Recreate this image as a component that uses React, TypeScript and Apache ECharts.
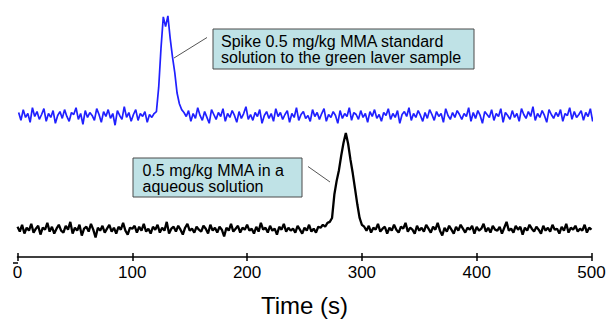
import React, { useEffect, useRef } from "react";
import * as echarts from "echarts";

// Time axis ticks (s)
const xTicks = [0, 100, 200, 300, 400, 500];

// Acquisition grid: every 2 s
const sampleStep = 2;
const blueStart = 1;
const blackStart = 0;

// Spiked green laver sample (offset trace, arbitrary units)
const blueSignal = [
  148,140,151,143,147,138,153,144,149,141,146,152,139,147,143,150,137,145,149,142,
  151,144,139,148,146,153,141,147,136,150,143,148,145,140,152,146,138,149,144,151,
  142,147,135,150,145,141,154,143,148,139,146,151,140,147,144,149,138,146,143,147,
  149,174,214,246,236,247,224,205,189,168,157,151,148,
  144,150,139,147,142,153,145,140,149,143,137,151,146,141,148,144,152,139,147,143,
  150,145,138,149,142,147,154,141,146,140,148,144,151,137,145,149,142,147,139,152,
  144,148,141,146,150,138,147,143,153,140,146,149,142,145,139,151,144,148,141,147,
  152,139,146,143,149,145,137,150,142,147,144,153,140,148,146,141,150,143,147,138,
  149,144,151,142,146,139,148,145,152,141,147,143,150,137,146,149,144,153,140,147,
  143,150,145,139,148,142,151,146,140,149,144,147,138,152,145,141,148,143,150,146,
  141,147,144,153,139,148,142,150,145,137,149,146,143,151,140,147,144,152,138,148,
  145,141,150,143,147,139,152,146,142,149,144,154,140,147,143,150,145,138,151,146,
  142,148,144,151,139,147,145,153,141,149,143,146,150,140,148,144,152,139,147,145,
];

// 0.5 mg/kg MMA in aqueous solution (arbitrary units)
const blackSignal = [
  31,26,33,24,30,27,34,25,29,32,23,30,28,35,26,31,24,29,33,27,
  25,32,28,36,24,30,27,33,22,29,31,26,34,28,20,30,27,32,25,29,
  33,26,30,24,31,28,35,27,23,30,29,32,25,31,27,34,26,29,24,31,
  28,33,25,30,27,36,24,29,31,26,32,28,23,30,34,27,29,25,31,28,
  26,32,29,24,33,27,30,25,31,28,21,30,27,34,26,29,32,25,30,28,
  33,27,29,24,31,26,35,28,30,25,32,27,29,23,31,28,34,26,30,27,
  29,25,32,28,24,30,27,33,26,29,25,31,
  30,33,31,35,36,40,64,78,89,104,117,127,116,100,86,70,54,40,33,31,
  27,32,25,30,28,34,26,29,31,24,30,27,33,28,25,31,29,35,26,30,
  28,24,32,27,30,26,33,29,25,31,28,35,27,22,30,26,32,28,24,31,
  27,33,29,25,30,28,32,24,31,27,29,34,26,30,25,32,28,27,31,24,
  30,36,27,29,25,32,28,31,23,30,27,33,29,26,31,28,24,32,27,30,
  26,33,28,29,24,31,27,34,25,30,28,32,26,29,27,33,25,30,28,
];

const note1 = ["Spike 0.5 mg/kg MMA standard", "solution to the green laver sample"];
const note2 = ["0.5 mg/kg MMA in a", "aqueous solution"];

const FONT = "'Liberation Sans', Arial, Helvetica, sans-serif";

export default function App() {
  const ref = useRef<HTMLDivElement>(null);
  useEffect(() => {
    if (!ref.current) return;
    const chart = echarts.init(ref.current, undefined, { renderer: "svg" });
    const blueData = blueSignal.map((v, i) => [blueStart + i * sampleStep, v]);
    const blackData = blackSignal.map((v, i) => [blackStart + i * sampleStep, v]);
    const boxFill = "#bfe2e6";
    const boxStroke = "#4a4a4a";
    chart.setOption({
      animation: false,
      backgroundColor: "#ffffff",
      textStyle: { fontFamily: FONT },
      grid: { left: 17.5, right: 17.5, top: 13, bottom: 59 },
      xAxis: [
        {
          type: "value",
          min: 0,
          max: 500,
          interval: 100,
          splitLine: { show: false },
          axisLine: { show: true, lineStyle: { color: "#000", width: 1.5 } },
          axisTick: { show: true, inside: false, length: 4, lineStyle: { color: "#000", width: 1.5 } },
          axisLabel: {
            show: true,
            color: "#000",
            fontSize: 17,
            margin: 7,
            fontFamily: FONT,
            customValues: xTicks,
          },
          name: "Time (s)",
          nameLocation: "middle",
          nameGap: 36,
          nameTextStyle: { fontSize: 24, color: "#000", fontFamily: FONT },
        },
        {
          type: "value",
          position: "bottom",
          min: 0,
          max: 500,
          interval: 100,
          splitLine: { show: false },
          axisLine: { show: false },
          axisTick: { show: true, inside: true, length: 4, lineStyle: { color: "#000", width: 1.5 } },
          axisLabel: { show: false },
        },
      ],
      yAxis: { type: "value", min: 0, max: 250, show: false },
      series: [
        {
          type: "line",
          data: blueData,
          xAxisIndex: 0,
          showSymbol: false,
          clip: false,
          lineStyle: { color: "#2020ff", width: 1.7 },
          z: 2,
        },
        {
          type: "line",
          data: blackData,
          xAxisIndex: 0,
          showSymbol: false,
          clip: false,
          lineStyle: { color: "#000", width: 2.3 },
          z: 2,
        },
      ],
      graphic: [
        { type: "line", shape: { x1: 13, y1: 263, x2: 18, y2: 263 }, style: { stroke: "#000", lineWidth: 1.5 } },
        { type: "line", shape: { x1: 207, y1: 37.5, x2: 174, y2: 58 }, style: { stroke: "#555", lineWidth: 1 } },
        { type: "rect", shape: { x: 213, y: 29, width: 261, height: 40 }, style: { fill: boxFill, stroke: boxStroke, lineWidth: 1 } },
        {
          type: "text",
          x: 221,
          y: 33.5,
          style: { text: note1.join("\n"), fontSize: 16, lineHeight: 16, fill: "#000", font: `16px ${FONT}`, textVerticalAlign: "top" },
        },
        { type: "line", shape: { x1: 308, y1: 166.5, x2: 330, y2: 182 }, style: { stroke: "#555", lineWidth: 1 } },
        { type: "rect", shape: { x: 133, y: 158, width: 169, height: 39 }, style: { fill: boxFill, stroke: boxStroke, lineWidth: 1 } },
        {
          type: "text",
          x: 142.5,
          y: 162,
          style: { text: note2.join("\n"), fontSize: 16, lineHeight: 16, fill: "#000", font: `16px ${FONT}`, textVerticalAlign: "top" },
        },
      ],
    });
    return () => chart.dispose();
  }, []);
  return (
    <div
      ref={ref}
      style={{ position: "fixed", left: 0, top: 0, width: 609, height: 322 }}
    />
  );
}
